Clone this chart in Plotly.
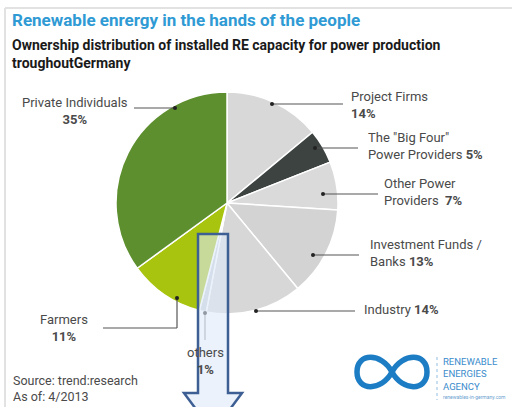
import plotly.graph_objects as go

W, H = 512, 407

# ---- data ----
categories = ["Project Firms", 'The "Big Four" Power Providers', "Other Power Providers",
              "Investment Funds / Banks", "Industry", "others", "Farmers", "Private Individuals"]
shares = [14, 5, 7, 13, 14, 1, 11, 35]
colors = ["#d8d8d8", "#3c4340", "#dadada", "#d3d3d3", "#d7d7d7", "#c9cdd8", "#a8c40e", "#5d8f2f"]

title_text = "Renewable enrergy in the hands of the people"
subtitle_lines = ["Ownership distribution of installed RE capacity for power production",
                  "troughoutGermany"]
source_lines = ["Source: trend:research", "As of: 4/2013"]


def X(px):
    return px / W


def Y(py):
    return 1 - py / H


FONT = "Roboto"
TXT = "#4a4a4a"
LS = 13

cx, cy, r = 227, 203, 111

fig = go.Figure(go.Pie(
    labels=categories, values=shares, sort=False, direction="clockwise", rotation=0,
    marker=dict(colors=colors, line=dict(color="white", width=1.5)),
    textinfo="none", hoverinfo="label+percent", showlegend=False,
    domain=dict(x=[X(cx - r), X(cx + r)], y=[Y(cy + r), Y(cy - r)]),
))

shapes = []
annotations = []


def line(x0, y0, x1, y1, color="#555555", width=1.2, dash=None):
    d = dict(type="line", xref="paper", yref="paper", x0=X(x0), y0=Y(y0), x1=X(x1), y1=Y(y1),
             line=dict(color=color, width=width))
    if dash:
        d["line"]["dash"] = dash
    shapes.append(d)


def dot(x, y, rr=2.0):
    shapes.append(dict(type="circle", xref="paper", yref="paper", x0=X(x - rr), x1=X(x + rr),
                       y0=Y(y + rr), y1=Y(y - rr), fillcolor="#222222", line=dict(width=0)))


def text(x, y, s, size=LS, color=TXT, anchor="left", align="left", family=FONT):
    annotations.append(dict(xref="paper", yref="paper", x=X(x), y=Y(y), text=s, showarrow=False,
                            xanchor=anchor, yanchor="middle", align=align,
                            font=dict(family=family, size=size, color=color)))


# frame
line(5, 8, 512, 8, color="#e2e2e2", width=2)
line(5, 8, 5, 407, color="#e2e2e2", width=2)

# titles
text(10, 20, "<b>%s</b>" % title_text, size=17, color="#2f9ad4")
text(10, 45, "<b>%s</b>" % subtitle_lines[0], size=14, color="#1a1a1a")
text(10, 63, "<b>%s</b>" % subtitle_lines[1], size=14, color="#1a1a1a")

# leader lines + dots + labels
# Private Individuals
line(134, 108, 175, 108); dot(175, 108)
text(75, 111, "Private Individuals<br><b>%d%%</b>" % shares[7], anchor="center", align="center")
# Project Firms
line(272, 104, 343, 104); dot(272, 104)
text(349, 105, "Project Firms<br><b>%d%%</b>" % shares[0])
# Big Four
line(315, 148, 358, 148); dot(315, 148)
text(366, 146, 'The "Big Four"<br>Power Providers <b>%d%%</b>' % shares[1])
# Other power providers
line(323, 194, 378, 194); dot(323, 194)
text(382, 192, "Other Power<br>Providers  <b>%d%%</b>" % shares[2])
# Investment funds
line(313, 255, 359, 255); dot(313, 255)
text(368, 253, "Investment Funds /<br>Banks <b>%d%%</b>" % shares[3])
# Industry
line(256, 311, 355, 311); dot(256, 311)
text(362, 309, "Industry <b>%d%%</b>" % shares[4])
# Farmers
line(177, 298, 177, 328); line(177, 328, 103, 328); dot(177, 298)
text(64, 328, "Farmers<br><b>%d%%</b>" % shares[6], anchor="center", align="center")
# others
line(205, 313, 205, 340, color="#888888"); dot(205, 313)
text(205, 361, "others<br><b>%d%%</b>" % shares[5], anchor="center", align="center")

# source
text(11, 388, source_lines[0] + "<br>" + source_lines[1], size=12.5)

# arrow overlay
pts = [(198, 234), (228, 234), (228, 393), (242, 393), (213, 432), (184, 393), (198, 393)]
path = "M " + " L ".join("%.5f,%.5f" % (X(a), Y(b)) for a, b in pts) + " Z"
shapes.append(dict(type="path", xref="paper", yref="paper", path=path,
                   fillcolor="rgba(222,233,248,0.6)", line=dict(color="#3d5f94", width=2.5),
                   layer="above"))

# logo: infinity
lcx, lcy, a, h = 392, 372, 35, 13
k = 1.5
seg = [
    (lcx, lcy),
    ("C", (lcx + 0.3 * a, lcy - k * h), (lcx + a, lcy - k * h), (lcx + a, lcy)),
    ("C", (lcx + a, lcy + k * h), (lcx + 0.3 * a, lcy + k * h), (lcx, lcy)),
    ("C", (lcx - 0.3 * a, lcy - k * h), (lcx - a, lcy - k * h), (lcx - a, lcy)),
    ("C", (lcx - a, lcy + k * h), (lcx - 0.3 * a, lcy + k * h), (lcx, lcy)),
]
p = "M %.5f,%.5f" % (X(seg[0][0]), Y(seg[0][1]))
for s in seg[1:]:
    p += " C " + " ".join("%.5f,%.5f" % (X(q[0]), Y(q[1])) for q in s[1:])
shapes.append(dict(type="path", xref="paper", yref="paper", path=p,
                   line=dict(color="#1c7cc4", width=5.5)))
line(437, 357, 437, 400, color="#8fbfe3", width=1, dash="dot")
text(441, 374, "RENEWABLE<br>ENERGIES<br>AGENCY", size=9.5, color="#3a8ccc")
text(441, 397, "renewables-in-germany.com", size=5, color="#6a9fcf")

fig.update_layout(width=W, height=H, margin=dict(l=0, r=0, t=0, b=0),
                  paper_bgcolor="white", plot_bgcolor="white",
                  shapes=shapes, annotations=annotations)
fig.write_html("out.html")
